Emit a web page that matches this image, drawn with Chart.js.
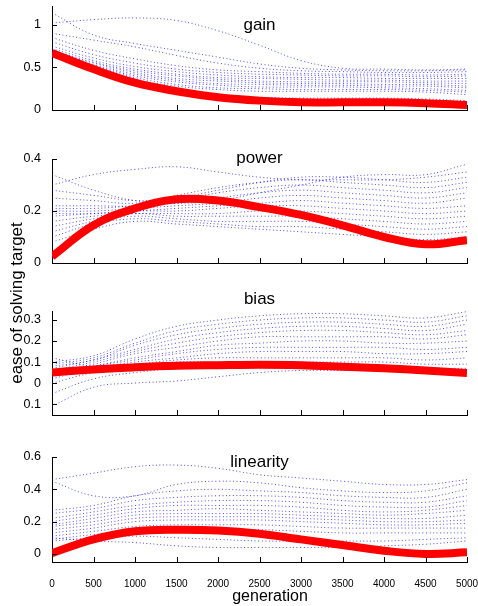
<!DOCTYPE html>
<html>
<head>
<meta charset="utf-8">
<script src="https://cdn.jsdelivr.net/npm/chart.js@4.4.0/dist/chart.umd.min.js"></script>
<style>
html, body { margin: 0; padding: 0; background: #fff; }
#wrap { position: relative; width: 478px; height: 606px; }
#wrap canvas { position: absolute; left: 0; top: 0; }
</style>
</head>
<body>
<div id="wrap">
  <canvas id="c0" width="478" height="606"></canvas>
  <canvas id="c1" width="478" height="606"></canvas>
  <canvas id="c2" width="478" height="606"></canvas>
  <canvas id="c3" width="478" height="606"></canvas>
</div>
<script>
// generations sampled along the x axis
const generations = [0, 500, 1000, 1500, 2000, 2500, 3000, 3500, 4000, 4500, 5000];
const xTicks = [0, 500, 1000, 1500, 2000, 2500, 3000, 3500, 4000, 4500, 5000];
const xTickLabels = ["0", "500", "1000", "1500", "2000", "2500", "3000", "3500", "4000", "4500", "5000"];

// gain
const gainRed = [0.67, 0.48, 0.32, 0.22, 0.15, 0.11, 0.09, 0.09, 0.09, 0.08, 0.06];
const gainBlue = [
    [1.02, 1.06, 1.08, 1.05, 0.93, 0.76, 0.58, 0.49, 0.48, 0.47, 0.48],
    [1.14, 0.88, 0.78, 0.70, 0.62, 0.54, 0.49, 0.47, 0.46, 0.46, 0.47],
    [0.90, 0.82, 0.74, 0.64, 0.55, 0.49, 0.46, 0.45, 0.44, 0.44, 0.45],
    [0.85, 0.70, 0.60, 0.52, 0.47, 0.45, 0.43, 0.42, 0.42, 0.41, 0.42],
    [0.80, 0.65, 0.55, 0.48, 0.44, 0.42, 0.41, 0.40, 0.40, 0.39, 0.40],
    [0.75, 0.61, 0.51, 0.45, 0.41, 0.39, 0.38, 0.38, 0.37, 0.37, 0.37],
    [0.72, 0.58, 0.48, 0.42, 0.38, 0.37, 0.36, 0.35, 0.35, 0.34, 0.34],
    [0.70, 0.56, 0.46, 0.40, 0.36, 0.34, 0.33, 0.33, 0.33, 0.32, 0.31],
    [0.68, 0.55, 0.44, 0.37, 0.34, 0.32, 0.31, 0.31, 0.30, 0.30, 0.28],
    [0.66, 0.53, 0.42, 0.35, 0.31, 0.30, 0.29, 0.29, 0.28, 0.28, 0.26],
    [0.65, 0.52, 0.40, 0.33, 0.29, 0.27, 0.27, 0.27, 0.26, 0.25, 0.23],
    [0.64, 0.51, 0.38, 0.30, 0.26, 0.25, 0.24, 0.24, 0.24, 0.23, 0.21],
    [0.63, 0.50, 0.36, 0.28, 0.24, 0.22, 0.22, 0.22, 0.22, 0.21, 0.18],
    [0.62, 0.49, 0.34, 0.24, 0.18, 0.15, 0.14, 0.14, 0.14, 0.13, 0.11]
];
const gainTicks = [0, 0.5, 1];
const gainTickLabels = ["0", "0.5", "1"];

// power
const powerRed = [0.025, 0.145, 0.21, 0.245, 0.24, 0.215, 0.185, 0.145, 0.10, 0.072, 0.088];
const powerBlue = [
    [0.34, 0.28, 0.24, 0.23, 0.24, 0.27, 0.30, 0.33, 0.34, 0.34, 0.38],
    [0.30, 0.34, 0.36, 0.37, 0.35, 0.33, 0.32, 0.32, 0.32, 0.33, 0.35],
    [0.28, 0.26, 0.24, 0.25, 0.28, 0.31, 0.33, 0.33, 0.32, 0.31, 0.33],
    [0.25, 0.24, 0.23, 0.26, 0.29, 0.31, 0.32, 0.31, 0.30, 0.29, 0.31],
    [0.22, 0.22, 0.22, 0.24, 0.27, 0.29, 0.30, 0.29, 0.28, 0.27, 0.29],
    [0.21, 0.21, 0.22, 0.23, 0.25, 0.27, 0.28, 0.27, 0.26, 0.25, 0.27],
    [0.20, 0.20, 0.21, 0.22, 0.23, 0.25, 0.26, 0.25, 0.24, 0.23, 0.25],
    [0.19, 0.19, 0.20, 0.21, 0.22, 0.23, 0.24, 0.23, 0.22, 0.21, 0.22],
    [0.18, 0.19, 0.20, 0.20, 0.21, 0.22, 0.22, 0.21, 0.20, 0.19, 0.20],
    [0.16, 0.18, 0.19, 0.19, 0.19, 0.20, 0.20, 0.19, 0.18, 0.17, 0.18],
    [0.14, 0.17, 0.19, 0.18, 0.18, 0.18, 0.18, 0.17, 0.16, 0.15, 0.16],
    [0.12, 0.16, 0.18, 0.17, 0.16, 0.16, 0.16, 0.15, 0.14, 0.13, 0.14],
    [0.10, 0.15, 0.17, 0.16, 0.15, 0.14, 0.14, 0.13, 0.12, 0.11, 0.12],
    [0.08, 0.13, 0.16, 0.15, 0.14, 0.13, 0.12, 0.11, 0.10, 0.09, 0.10]
];
const powerTicks = [0, 0.2, 0.4];
const powerTickLabels = ["0", "0.2", "0.4"];

// bias
const biasRed = [0.05, 0.065, 0.075, 0.082, 0.085, 0.087, 0.085, 0.078, 0.07, 0.06, 0.048];
const biasBlue = [
    [0.10, 0.13, 0.21, 0.27, 0.30, 0.32, 0.33, 0.33, 0.32, 0.31, 0.34],
    [0.09, 0.12, 0.19, 0.25, 0.28, 0.30, 0.31, 0.31, 0.30, 0.29, 0.32],
    [0.08, 0.11, 0.18, 0.23, 0.26, 0.28, 0.29, 0.29, 0.28, 0.27, 0.30],
    [0.07, 0.11, 0.16, 0.21, 0.24, 0.26, 0.27, 0.27, 0.26, 0.25, 0.28],
    [0.06, 0.10, 0.15, 0.19, 0.22, 0.24, 0.25, 0.25, 0.24, 0.23, 0.25],
    [0.05, 0.09, 0.14, 0.17, 0.20, 0.22, 0.22, 0.22, 0.22, 0.21, 0.23],
    [0.04, 0.08, 0.12, 0.15, 0.18, 0.19, 0.20, 0.20, 0.19, 0.19, 0.20],
    [0.03, 0.08, 0.11, 0.14, 0.16, 0.17, 0.17, 0.17, 0.17, 0.16, 0.17],
    [0.02, 0.07, 0.10, 0.12, 0.14, 0.15, 0.15, 0.15, 0.14, 0.14, 0.15],
    [0.12, 0.08, 0.09, 0.11, 0.12, 0.12, 0.12, 0.12, 0.12, 0.11, 0.12],
    [0.00, 0.05, 0.08, 0.10, 0.10, 0.10, 0.10, 0.10, 0.10, 0.09, 0.09],
    [-0.05, 0.02, 0.05, 0.07, 0.08, 0.09, 0.09, 0.08, 0.08, 0.07, 0.07],
    [-0.11, -0.02, 0.00, 0.01, 0.03, 0.05, 0.06, 0.06, 0.06, 0.05, 0.06]
];
const biasTicks = [-0.1, 0, 0.1, 0.2, 0.3];
const biasTickLabels = ["0.1", "0", "0.1", "0.2", "0.3"];

// linearity
const linearityRed = [0.005, 0.09, 0.14, 0.15, 0.145, 0.125, 0.09, 0.055, 0.02, 0.0, 0.01];
const linearityBlue = [
    [0.46, 0.50, 0.54, 0.55, 0.53, 0.49, 0.47, 0.45, 0.43, 0.43, 0.46],
    [0.45, 0.36, 0.36, 0.43, 0.45, 0.44, 0.41, 0.39, 0.38, 0.39, 0.44],
    [0.27, 0.30, 0.36, 0.39, 0.40, 0.39, 0.38, 0.36, 0.35, 0.35, 0.40],
    [0.25, 0.28, 0.33, 0.35, 0.36, 0.36, 0.35, 0.33, 0.32, 0.32, 0.36],
    [0.22, 0.26, 0.30, 0.32, 0.33, 0.33, 0.32, 0.30, 0.29, 0.29, 0.33],
    [0.20, 0.24, 0.28, 0.30, 0.30, 0.30, 0.29, 0.27, 0.26, 0.27, 0.30],
    [0.18, 0.22, 0.26, 0.27, 0.28, 0.27, 0.26, 0.25, 0.24, 0.25, 0.27],
    [0.17, 0.20, 0.24, 0.25, 0.25, 0.25, 0.24, 0.23, 0.22, 0.22, 0.24],
    [0.15, 0.18, 0.22, 0.23, 0.23, 0.23, 0.22, 0.21, 0.20, 0.20, 0.21],
    [0.13, 0.16, 0.20, 0.21, 0.21, 0.21, 0.20, 0.19, 0.18, 0.18, 0.19],
    [0.11, 0.14, 0.17, 0.18, 0.18, 0.18, 0.17, 0.16, 0.16, 0.16, 0.16],
    [0.09, 0.12, 0.14, 0.15, 0.15, 0.15, 0.14, 0.13, 0.13, 0.13, 0.13],
    [0.08, 0.10, 0.11, 0.10, 0.09, 0.08, 0.08, 0.08, 0.08, 0.09, 0.10],
    [0.10, 0.08, 0.07, 0.05, 0.04, 0.04, 0.04, 0.04, 0.05, 0.06, 0.08]
];
const linearityTicks = [0, 0.2, 0.4, 0.6];
const linearityTickLabels = ["0", "0.2", "0.4", "0.6"];

const FONT = '"Liberation Sans", Arial, Helvetica, sans-serif';
const H = 606;

const panels = [
    { id: "c0", title: "gain", red: gainRed, blue: gainBlue, yMin: 0, yMax: 1.22,
      ticks: gainTicks, labels: gainTickLabels, top: 6, bottom: 110, titleY: 25 },
    { id: "c1", title: "power", red: powerRed, blue: powerBlue, yMin: 0, yMax: 0.4,
      ticks: powerTicks, labels: powerTickLabels, top: 159, bottom: 263, titleY: 158 },
    { id: "c2", title: "bias", red: biasRed, blue: biasBlue, yMin: -0.152, yMax: 0.343,
      ticks: biasTicks, labels: biasTickLabels, top: 311, bottom: 415, titleY: 299, yLabel: true },
    { id: "c3", title: "linearity", red: linearityRed, blue: linearityBlue, yMin: -0.05, yMax: 0.6,
      ticks: linearityTicks, labels: linearityTickLabels, top: 457, bottom: 562, titleY: 462, xLabels: true }
];

function points(arr) {
    return generations.map((g, i) => ({ x: g, y: arr[i] }));
}

// inward tick marks, panel titles and axis labels
const panelDecor = {
    id: "panelDecor",
    afterDraw(chart, args, opts) {
        const ctx = chart.ctx;
        const xs = chart.scales.x;
        const ys = chart.scales.y;
        const a = chart.chartArea;
        ctx.save();
        ctx.strokeStyle = "#000";
        ctx.lineWidth = 1;
        ctx.beginPath();
        xs.ticks.forEach((t) => {
            const px = Math.round(xs.getPixelForValue(t.value)) + 0.5;
            ctx.moveTo(px, a.bottom);
            ctx.lineTo(px, a.bottom - 5);
        });
        ys.ticks.forEach((t) => {
            const py = Math.round(ys.getPixelForValue(t.value)) + 0.5;
            ctx.moveTo(a.left, py);
            ctx.lineTo(a.left + 5, py);
        });
        ctx.stroke();

        ctx.fillStyle = "#000";
        ctx.textAlign = "center";
        ctx.textBaseline = "middle";
        ctx.font = "17px " + FONT;
        ctx.fillText(opts.title, (a.left + a.right) / 2, opts.titleY);

        if (opts.yLabel) {
            ctx.save();
            ctx.translate(17, 303);
            ctx.rotate(-Math.PI / 2);
            ctx.font = "17px " + FONT;
            ctx.fillText("ease of solving target", 0, 0);
            ctx.restore();
        }
        if (opts.xLabels) {
            ctx.font = "16px " + FONT;
            ctx.fillText("generation", 270, 597);
        }
        ctx.restore();
    }
};

panels.forEach((p) => {
    const datasets = [{
        data: points(p.red),
        borderColor: "#ff0000",
        borderWidth: 8,
        tension: 0.4,
        pointRadius: 0
    }];
    p.blue.forEach((arr) => {
        datasets.push({
            data: points(arr),
            borderColor: "rgba(0,0,255,0.7)",
            borderWidth: 1,
            borderDash: [1, 2.5],
            tension: 0.4,
            pointRadius: 0
        });
    });

    new Chart(document.getElementById(p.id), {
        type: "line",
        data: { datasets: datasets },
        plugins: [panelDecor],
        options: {
            responsive: false,
            animation: false,
            devicePixelRatio: 1,
            layout: { padding: { top: p.top, right: 11, left: 0, bottom: 0 } },
            plugins: {
                legend: { display: false },
                tooltip: { enabled: false },
                panelDecor: { title: p.title, titleY: p.titleY, yLabel: !!p.yLabel, xLabels: !!p.xLabels }
            },
            scales: {
                x: {
                    type: "linear",
                    min: 0,
                    max: 5000,
                    afterFit(s) {
                        s.height = H - p.bottom;
                        s.paddingLeft = 0;
                        s.paddingRight = 0;
                    },
                    afterBuildTicks(s) { s.ticks = xTicks.map((v) => ({ value: v })); },
                    grid: { display: false },
                    border: { display: true, color: "#000", width: 1 },
                    ticks: {
                        display: !!p.xLabels,
                        autoSkip: false,
                        maxRotation: 0,
                        padding: 8,
                        color: "#000",
                        font: { size: 10, family: FONT },
                        callback: (v, i) => xTickLabels[i]
                    }
                },
                y: {
                    type: "linear",
                    min: p.yMin,
                    max: p.yMax,
                    afterFit(s) {
                        s.width = 52;
                        s.paddingTop = 0;
                        s.paddingBottom = 0;
                    },
                    afterBuildTicks(s) { s.ticks = p.ticks.map((v) => ({ value: v })); },
                    grid: { display: false },
                    border: { display: true, color: "#000", width: 1 },
                    ticks: {
                        padding: 3,
                        color: "#000",
                        font: { size: 12.5, family: FONT, lineHeight: 1 },
                        callback: (v, i) => p.labels[i]
                    }
                }
            }
        }
    });
});
</script>
</body>
</html>
